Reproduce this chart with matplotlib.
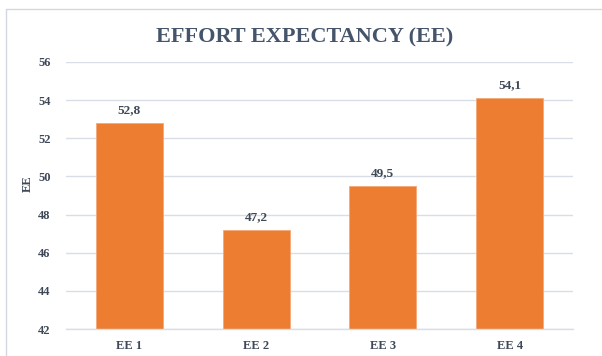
import matplotlib.pyplot as plt
from matplotlib.patches import Rectangle

plt.rcParams['font.family'] = ['Liberation Serif', 'DejaVu Serif']

categories = ['EE 1', 'EE 2', 'EE 3', 'EE 4']
values = [52.8, 47.2, 49.5, 54.1]
value_labels = ['52,8', '47,2', '49,5', '54,1']
yticks = [42, 44, 46, 48, 50, 52, 54, 56]

text_color = '#3E4857'
title_color = '#44546A'
bar_color = '#ED7D31'
grid_color = '#D9DEE6'

fig = plt.figure(figsize=(6.02, 3.56), dpi=100)
fig.patch.set_facecolor('white')

# chart frame
fig.patches.append(Rectangle((6 / 602, -0.1), 1.2, (1 - 9 / 356) + 0.1,
                             transform=fig.transFigure, fill=False,
                             edgecolor='#D0D7E2', linewidth=1.0))

ax = fig.add_axes([66 / 602, 1 - 329 / 356, (573 - 66) / 602, (329 - 62) / 356])
x = range(len(categories))
bars = ax.bar(x, values, width=0.53, color=bar_color, zorder=2,
              edgecolor='#F4A97A', linewidth=0.6)

ax.set_ylim(42, 56)
ax.set_xlim(-0.5, len(categories) - 0.5)
ax.set_yticks(yticks)
ax.set_yticklabels([str(t) for t in yticks], fontsize=9, fontweight='bold', color=text_color)
ax.set_xticks(list(x))
ax.set_xticklabels(categories, fontsize=9, fontweight='bold', color=text_color)
ax.tick_params(axis='y', length=0, pad=11)
ax.tick_params(axis='x', length=0, pad=8)
ax.yaxis.grid(True, color=grid_color, linewidth=1.0, zorder=0)
for s in ['top', 'right', 'left']:
    ax.spines[s].set_visible(False)
ax.spines['bottom'].set_color(grid_color)
ax.spines['bottom'].set_linewidth(1.0)

for b, v, lab in zip(bars, values, value_labels):
    ax.annotate(lab, (b.get_x() + b.get_width() / 2, v), xytext=(0, 5),
                textcoords='offset points', ha='center', va='bottom',
                fontsize=9.5, fontweight='bold', color=text_color)

ax.set_ylabel('EE', fontsize=9, fontweight='bold', color=text_color)
ax.yaxis.set_label_coords(-0.063, 0.543)

fig.text(305 / 602, 1 - 37 / 356, 'EFFORT EXPECTANCY (EE)', ha='center', va='center',
         fontsize=16, fontweight='bold', color=title_color)

fig.savefig('out.png', dpi=100)
